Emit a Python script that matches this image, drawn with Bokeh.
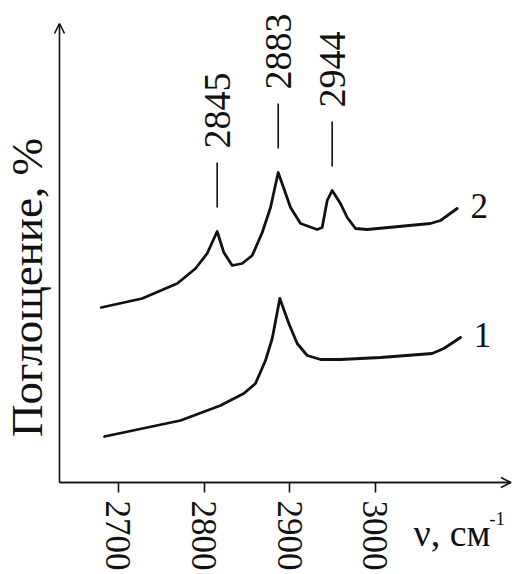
import numpy as np
from bokeh.plotting import figure
from bokeh.models import Range1d, LinearAxis, FixedTicker, Arrow, OpenHead, Label
from bokeh.core.properties import value
from bokeh.embed import file_html
from bokeh.resources import INLINE

# ---- data ----
wavenumber_2 = [2679.8, 2727.7, 2768.7, 2790.1, 2803.7, 2815.4, 2823.2, 2833.0, 2844.7,
                2856.4, 2868.1, 2877.8, 2886.8, 2901.2, 2912.9, 2932.4, 2938.2, 2944.1,
                2949.9, 2959.6, 2967.5, 2977.2, 2990.9, 3064.9, 3076.6, 3096.1]
absorb_2 = [17.5, 18.4, 19.9, 21.4, 22.9, 25.1, 23.0, 21.7, 21.9,
            22.7, 25.0, 27.5, 31.0, 27.5, 25.9, 25.3, 25.5, 28.2,
            29.2, 27.9, 26.5, 25.4, 25.3, 25.9, 26.2, 27.4]
wavenumber_1 = [2683.6, 2772.5, 2819.3, 2846.5, 2860.2, 2871.9, 2879.8, 2888.7, 2899.2,
                2909.0, 2920.7, 2936.3, 2959.6, 3006.4, 3066.9, 3080.5, 3100.0]
absorb_1 = [4.6, 6.2, 7.7, 8.9, 9.9, 12.2, 14.4, 18.4, 15.9,
            13.9, 12.7, 12.3, 12.3, 12.5, 12.9, 13.4, 14.5]
peak_labels = ["2845", "2883", "2944"]
peak_positions = [2815.4, 2886.8, 2949.9]
peak_heights = [25.1, 31.0, 29.2]
x_ticks = [2700, 2800, 2900, 3000]
curve_names = ["1", "2"]
y_title = "Поглощение, %"
x_title = "ν, см"
x_title_sup = "-1"

FONT = "Liberation Serif"
INK = "#111111"

p = figure(width=512, height=574, output_backend="svg", toolbar_location=None,
           x_axis_location=None, y_axis_location=None,
           x_range=Range1d(2562.0, 3160.8), y_range=Range1d(-9.2, 48.2),
           min_border=0, min_border_left=0, min_border_right=0,
           min_border_top=0, min_border_bottom=0)
p.outline_line_color = None
p.background_fill_color = "white"
p.border_fill_color = "white"
p.xgrid.visible = False
p.ygrid.visible = False

x_origin = 2631.0
x_end = 3159.0
y_top = 45.9

# x axis at y = 0
xaxis = LinearAxis(fixed_location=0, ticker=FixedTicker(ticks=x_ticks), bounds=(x_origin, x_end))
xaxis.axis_line_width = 1.6
xaxis.axis_line_color = INK
xaxis.major_tick_out = 10
xaxis.major_tick_in = 0
xaxis.major_tick_line_width = 1.6
xaxis.major_tick_line_color = INK
xaxis.minor_tick_out = 0
xaxis.minor_tick_in = 0
xaxis.major_label_orientation = "vertical"
xaxis.major_label_standoff = 8
xaxis.major_label_text_font = FONT
xaxis.major_label_text_font_size = "35px"
xaxis.major_label_text_color = INK
p.add_layout(xaxis, "below")

# y axis at x = origin (line drawn by the arrow; bounds centre the title)
yaxis = LinearAxis(fixed_location=x_origin, ticker=FixedTicker(ticks=[]), bounds=(0, 39.0))
yaxis.axis_line_color = None
yaxis.major_tick_out = 0
yaxis.major_tick_in = 0
yaxis.minor_tick_out = 0
yaxis.minor_tick_in = 0
yaxis.major_label_text_font_size = "0px"
yaxis.axis_label = y_title
yaxis.axis_label_text_font = FONT
yaxis.axis_label_text_font_size = "45px"
yaxis.axis_label_text_font_style = "normal"
yaxis.axis_label_text_color = INK
yaxis.axis_label_standoff = 8
p.add_layout(yaxis, "left")

# axis arrows
p.add_layout(Arrow(end=OpenHead(size=10, line_width=1.6, line_color=INK),
                   x_start=x_origin, y_start=0, x_end=x_end, y_end=0,
                   line_width=1.6, line_color=INK))
p.add_layout(Arrow(end=OpenHead(size=10, line_width=1.6, line_color=INK),
                   x_start=x_origin, y_start=0, x_end=x_origin, y_end=y_top,
                   line_width=1.6, line_color=INK))

# spectra
p.line(wavenumber_1, absorb_1, line_width=2.8, line_color=INK, line_join="round", line_cap="round")
p.line(wavenumber_2, absorb_2, line_width=2.8, line_color=INK, line_join="round", line_cap="round")

# curve numbers next to the curve ends
p.text(x=[wavenumber_1[-1] + 15.6, wavenumber_2[-1] + 15.6],
       y=[absorb_1[-1] + 0.3, absorb_2[-1] + 0.3],
       text=curve_names, text_font=value(FONT), text_font_size="35px",
       text_color=INK, text_align="left", text_baseline="middle")

# peak markers and labels
ph = np.array(peak_heights)
p.segment(x0=peak_positions, y0=ph + 2.4, x1=peak_positions, y1=ph + 6.9,
          line_width=1.6, line_color=INK)
p.text(x=peak_positions, y=ph + 8.3, text=peak_labels, angle=np.pi / 2,
       text_font=value(FONT), text_font_size="38px", text_color=INK,
       text_align="left", text_baseline="middle")

# x axis title
p.add_layout(Label(x=3045.0, y=-5.0, text=x_title, text_font=FONT, text_font_size="38px",
                   text_color=INK, text_align="left", text_baseline="alphabetic"))
p.add_layout(Label(x=3133.5, y=-3.6, text=x_title_sup, text_font=FONT, text_font_size="19px",
                   text_color=INK, text_align="left", text_baseline="alphabetic"))

open("out.html", "w").write(file_html(p, INLINE))
